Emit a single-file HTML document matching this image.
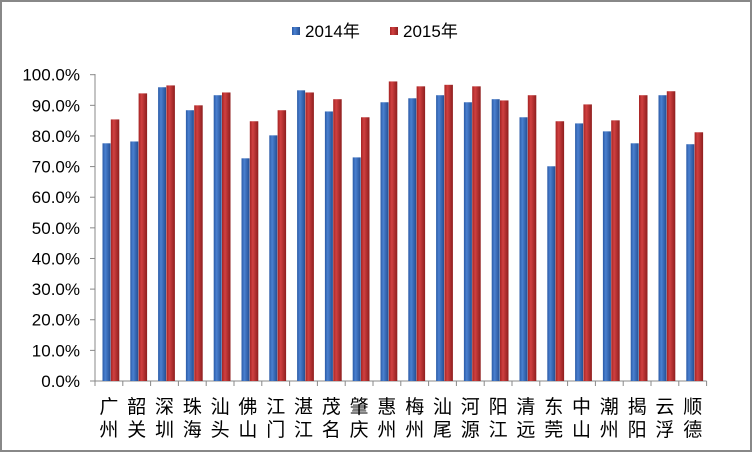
<!DOCTYPE html>
<html><head><meta charset="utf-8"><style>
html,body{margin:0;padding:0;background:#fff}
svg{display:block}
text{font-family:"Liberation Sans","Noto Sans CJK SC",sans-serif;fill:#000}
</style></head><body>
<svg id="c" width="752" height="452" xmlns="http://www.w3.org/2000/svg">
<defs>
<linearGradient id="gb" x1="0" x2="1" y1="0" y2="0">
<stop offset="0" stop-color="#2a5aa6"/><stop offset="0.35" stop-color="#4a80d0"/><stop offset="1" stop-color="#244f94"/></linearGradient>
<linearGradient id="gr" x1="0" x2="1" y1="0" y2="0">
<stop offset="0" stop-color="#a52424"/><stop offset="0.35" stop-color="#d04040"/><stop offset="1" stop-color="#8e1e1e"/></linearGradient>
</defs>
<rect x="1" y="1" width="750" height="450" fill="#fff" stroke="#888" stroke-width="2"/>
<g id="g"></g>
</svg>
<script>
var names=["广州","韶关","深圳","珠海","汕头","佛山","江门","湛江","茂名","肇庆","惠州","梅州","汕尾","河源","阳江","清远","东莞","中山","潮州","揭阳","云浮","顺德"];
var b=[77.6,78.2,95.9,88.4,93.3,72.7,80.2,94.9,88.0,73.0,91.0,92.3,93.3,91.0,92.0,86.1,70.1,84.1,81.5,77.6,93.3,77.3];
var r=[85.4,93.9,96.5,90.0,94.2,84.8,88.4,94.2,92.0,86.1,97.8,96.2,96.7,96.2,91.6,93.3,84.8,90.3,85.1,93.3,94.6,81.2];
var x0=95,sp=27.8,y0=381,k=3.063,s="";
function Y(v){return y0-v*k;}
s+='<line x1="'+x0+'" y1="'+(74)+'" x2="'+x0+'" y2="'+y0+'" stroke="#888"/>';
s+='<line x1="'+x0+'" y1="'+y0+'" x2="'+(x0+22*sp)+'" y2="'+y0+'" stroke="#888"/>';
for(var i=0;i<=10;i++){var y=Y(i*10);s+='<line x1="'+(x0-5)+'" y1="'+y+'" x2="'+x0+'" y2="'+y+'" stroke="#888"/>';
s+='<text x="'+(x0-15)+'" y="'+(y+6)+'" font-size="17" text-anchor="end">'+(i*10)+'.0%</text>';}
for(var i=0;i<=22;i++){var x=x0+i*sp;s+='<line x1="'+x+'" y1="'+y0+'" x2="'+x+'" y2="'+(y0+5)+'" stroke="#888"/>';}
for(var i=0;i<22;i++){var cx=x0+i*sp;
s+='<rect x="'+(cx+7.5)+'" y="'+Y(b[i])+'" width="8" height="'+(b[i]*k)+'" fill="url(#gb)"/>';
s+='<rect x="'+(cx+15.8)+'" y="'+Y(r[i])+'" width="8.5" height="'+(r[i]*k)+'" fill="url(#gr)"/>';
var tx=cx+sp/2;
s+='<text x="'+tx+'" y="413" font-size="19" text-anchor="middle">'+names[i][0]+'</text>';
s+='<text x="'+tx+'" y="436" font-size="19" text-anchor="middle">'+names[i][1]+'</text>';}
s+='<rect x="292" y="27" width="8" height="8" fill="url(#gb)"/><text x="305" y="37" font-size="17">2014年</text>';
s+='<rect x="390" y="27" width="8" height="8" fill="url(#gr)"/><text x="403" y="37" font-size="17">2015年</text>';
document.getElementById("g").innerHTML=s;
</script>
</body></html>
